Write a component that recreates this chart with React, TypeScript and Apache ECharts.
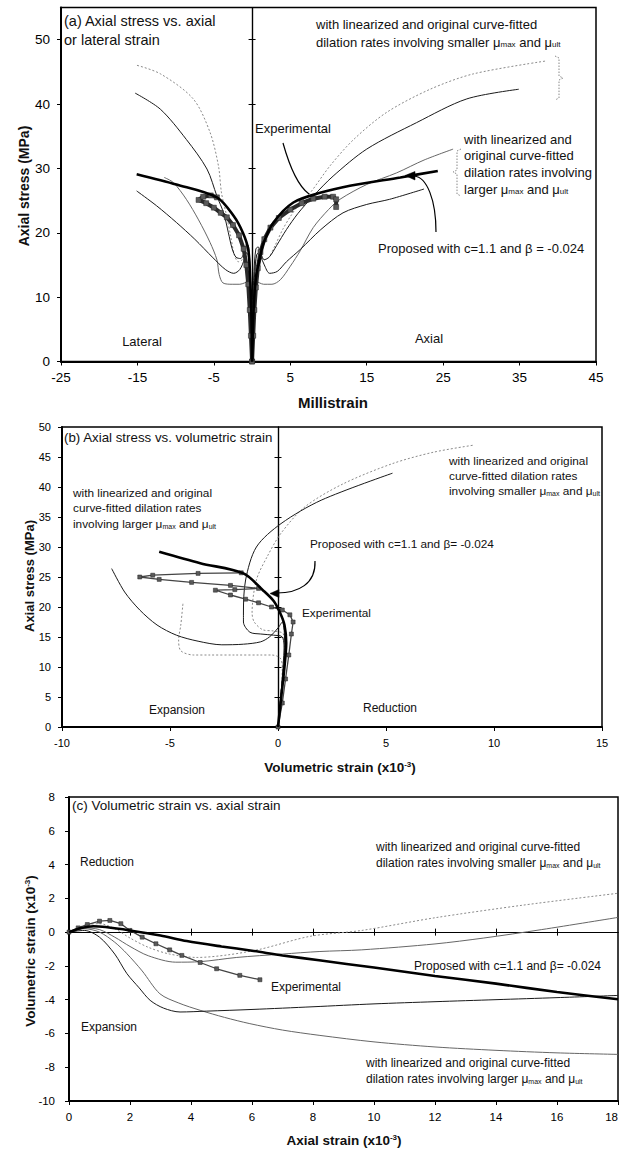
import React, { useEffect, useRef } from 'react';
import * as echarts from 'echarts';

type Pt = [number, number];
const FONT = '"Liberation Sans", Arial, Helvetica, sans-serif';

// ---------- Panel (a): axial stress (MPa) vs strain (millistrain); negative = lateral ----------
const aXTicks = [-25, -15, -5, 5, 15, 25, 35, 45];
const aYTicks = [0, 10, 20, 30, 40, 50];
const aZeroTicks = [10, 20, 30, 40, 50];

const aExpAxial: Pt[] = [[0, 0], [0.15, 4], [0.3, 8], [0.5, 11.5], [0.75, 14.5], [1.1, 17], [1.6, 19], [2.4, 20.8], [3.5, 22.3], [5, 23.6], [6.5, 24.6], [8, 25.3], [9.5, 25.6], [10.6, 25.6], [11.0, 25.2], [11.0, 24.0]];
const aExpLateral: Pt[] = [[0, 0], [-0.15, 4], [-0.3, 8], [-0.5, 12], [-0.75, 15], [-1.1, 17.5], [-1.7, 19.6], [-2.5, 21.2], [-3.3, 22.4], [-4.1, 23.1], [-5, 23.9], [-6, 24.6], [-7, 25.1], [-6.4, 25.6], [-5.4, 25.8], [-4.6, 25.5]];
const aPropAxial: Pt[] = [[0, 0], [0.2, 8], [0.5, 13], [1.0, 16], [1.5, 18.4], [2.8, 21.6], [5.4, 24.7], [8.9, 26.2], [12.8, 27.3], [19.4, 28.6], [24.3, 29.6]];
const aPropLateral: Pt[] = [[0, 0], [-0.1, 8], [-0.25, 13], [-0.5, 17.4], [-1.2, 20], [-2.4, 22.6], [-4.6, 25.5], [-9.9, 27.5], [-15.1, 29.1]];
const aSmallDotAxial: Pt[] = [[0, 0], [0.1, 7], [0.3, 13], [0.6, 16.3], [1.0, 16.6], [1.5, 15.8], [2.2, 16.2], [3, 18], [4, 20.5], [5, 22.5], [6.2, 24.5], [7.6, 26.2], [10.2, 30.4], [13.3, 34.5], [17.6, 38.7], [23.3, 42.3], [29, 44.7], [38.5, 46.7]];
const aSmallDotLateral: Pt[] = [[0, 0], [-0.1, 7], [-0.3, 13], [-0.5, 16.3], [-0.8, 16.8], [-1.3, 15.8], [-1.8, 15.5], [-2.3, 16.5], [-2.8, 19.5], [-3.4, 23], [-4.0, 26.2], [-4.4, 30.4], [-5.5, 35.6], [-7.7, 40.8], [-12, 44.7], [-15.3, 46.1]];
const aSmallBlackAxial: Pt[] = [[0, 0], [0.1, 7], [0.3, 13], [0.6, 16.6], [1.0, 16.9], [1.6, 15.8], [2.3, 16.3], [3.2, 18], [4.5, 20.5], [6, 23], [8, 25.7], [10.6, 28.8], [15, 33], [21.5, 37.1], [28.1, 40.8], [34.9, 42.3]];
const aSmallBlackLateral: Pt[] = [[0, 0], [-0.1, 7], [-0.3, 13], [-0.5, 16.5], [-0.9, 17], [-1.5, 16], [-2.1, 16.2], [-2.6, 17.5], [-3.1, 20], [-3.7, 23], [-4.6, 25.7], [-5.9, 29.9], [-8.6, 34.5], [-12, 39.2], [-15.3, 41.7]];
const aLargeBlackAxial: Pt[] = [[0, 0], [0.1, 8], [0.25, 14], [0.5, 17.5], [0.8, 17.8], [1.1, 16.5], [1.6, 15], [2.3, 13.7], [3.3, 14], [4.5, 15.5], [6.3, 17.4], [9, 20.5], [11.9, 23.1], [15, 24.4], [18, 25.2], [22.5, 26.8]];
const aLargeBlackLateral: Pt[] = [[0, 0], [-0.1, 8], [-0.25, 14], [-0.45, 17.8], [-0.7, 18.3], [-1.0, 16], [-1.6, 14.3], [-2.4, 13.7], [-3.5, 14.3], [-5.1, 16.1], [-7.5, 19], [-9.9, 21.6], [-12.5, 24.2], [-15.1, 26.5]];
const aLargeGrayAxial: Pt[] = [[0, 0], [0.1, 7], [0.3, 11.5], [0.6, 12.4], [1.0, 12.2], [1.5, 12], [2.6, 12], [3.7, 12.7], [5, 14.8], [6.3, 17.2], [8, 20.8], [10, 23.6], [11.5, 25.2], [15, 27.5], [18.9, 29.3], [22.5, 31.3], [26.3, 33]];
const aLargeGrayLateral: Pt[] = [[0, 0], [-0.1, 7], [-0.3, 11.5], [-0.6, 12.4], [-1.0, 12.2], [-1.6, 12], [-2.6, 12], [-3.8, 12.2], [-4.3, 13.5], [-4.6, 15.8], [-5.5, 18.5], [-7, 22], [-8.6, 25.2], [-10.3, 27.8], [-11.5, 28.6]];

// ---------- Panel (b): axial stress (MPa) vs volumetric strain (x10^-3) ----------
const bXTicks = [-10, -5, 0, 5, 10, 15];
const bYTicks = [0, 5, 10, 15, 20, 25, 30, 35, 40, 45, 50];
const bZeroTicks = [5, 10, 15, 20, 25, 30, 35, 40, 45];

const bExp: Pt[] = [[0, 0], [0.2, 4], [0.35, 8], [0.5, 12], [0.62, 15.5], [0.7, 17.5], [0.55, 18.7], [0.2, 19.5], [-0.3, 20], [-0.9, 20.7], [-1.5, 21.3], [-2.2, 22], [-2.9, 22.8], [-2.0, 22.9], [-0.9, 23.1], [-2.2, 23.6], [-4.0, 24.1], [-5.5, 24.6], [-6.4, 25], [-5.8, 25.3], [-3.7, 25.6], [-1.7, 25.7]];
const bProp: Pt[] = [[0, 0], [0.15, 5], [0.3, 10], [0.38, 14], [0.3, 17], [0.1, 19], [-0.2, 21], [-0.7, 22.8], [-1.6, 25.6], [-3.6, 27.3], [-5.5, 29.2]];
const bSmallDot: Pt[] = [[0, 0], [0.15, 6], [0.3, 12], [0.25, 15.5], [-0.2, 16], [-0.7, 16.2], [-1.1, 17.5], [-1.2, 19], [-1.0, 24.5], [-0.5, 28.4], [0.14, 32.3], [1.25, 36.7], [3, 40.5], [5.3, 43.9], [7.2, 45.8], [9.1, 47]];
const bSmallBlack: Pt[] = [[0, 0], [0.15, 6], [0.3, 12], [0.2, 15], [-0.2, 15.3], [-0.8, 15.5], [-1.3, 15.8], [-1.6, 17.5], [-1.6, 19], [-1.5, 24.5], [-1.0, 30], [0.14, 33.9], [2.0, 37.8], [5.3, 42.3]];
const bLargeBlack: Pt[] = [[0, 0], [0.15, 6], [0.25, 11], [0.3, 15], [0.2, 17.5], [0, 16.5], [-0.4, 15], [-0.8, 14.2], [-1.6, 13.8], [-2.6, 13.7], [-3.7, 14.3], [-4.7, 15.3], [-5.6, 17], [-6.4, 19.5], [-7.1, 22.5], [-7.7, 26.4]];
const bLargeGray: Pt[] = [[0, 0], [0.15, 6], [0.2, 10], [0.1, 11.5], [-0.3, 12], [-0.8, 12], [-2, 12], [-3.2, 12], [-3.9, 12], [-4.5, 12.7], [-4.6, 14.5], [-4.5, 17], [-4.4, 20.6]];

// ---------- Panel (c): volumetric strain vs axial strain (x10^-3) ----------
const cXTicks = [0, 2, 4, 6, 8, 10, 12, 14, 16, 18];
const cYTicks = [-10, -8, -6, -4, -2, 0, 2, 4, 6, 8];
const cZeroTicks = [2, 4, 6, 8, 10, 12, 14, 16];

const cExp: Pt[] = [[0, 0], [0.3, 0.25], [0.6, 0.45], [1.0, 0.65], [1.34, 0.69], [1.7, 0.5], [2.0, 0.1], [2.4, -0.3], [2.85, -0.69], [3.3, -1.05], [3.7, -1.38], [4.3, -1.8], [4.84, -2.17], [5.6, -2.56], [6.26, -2.82]];
const cProp: Pt[] = [[0, 0], [0.4, 0.25], [0.8, 0.35], [1.2, 0.3], [2, 0.1], [3, -0.2], [3.86, -0.53], [5, -0.85], [6, -1.1], [7, -1.38], [8.2, -1.67], [10, -2.1], [12, -2.6], [14, -3.05], [16, -3.55], [18, -3.98]];
const cSmallDot: Pt[] = [[0, 0], [0.5, 0.4], [1, 0.5], [1.5, 0.2], [2, -0.35], [2.6, -0.9], [3.3, -1.3], [4.2, -1.5], [5.2, -1.35], [6.3, -1.0], [7.9, -0.25], [9.6, 0.1], [12, 0.85], [14.9, 1.6], [18, 2.3]];
const cSmallGray: Pt[] = [[0, 0], [0.5, 0.25], [1, 0.15], [1.5, -0.3], [2, -0.85], [2.6, -1.4], [3.5, -1.78], [4.3, -1.75], [5.5, -1.5], [7, -1.3], [8.2, -1.15], [9.6, -1.05], [12, -0.7], [13.6, -0.35], [15.5, 0.15], [18, 0.87]];
const cLargeBlack: Pt[] = [[0, 0], [0.5, 0.1], [1, -0.3], [1.5, -1.3], [1.9, -2.46], [2.3, -3.3], [2.66, -4.04], [3.1, -4.5], [3.64, -4.73], [4.5, -4.68], [6, -4.58], [8, -4.42], [10, -4.25], [12, -4.12], [14, -4.0], [16, -3.88], [18, -3.75]];
const cLargeGray: Pt[] = [[0, 0], [0.5, 0.2], [1, 0], [1.5, -0.6], [1.9, -1.28], [2.4, -2.3], [2.98, -3.65], [3.6, -4.2], [4.3, -4.63], [5.1, -5.05], [5.93, -5.42], [7, -5.8], [8.2, -6.11], [10, -6.5], [12, -6.8], [14, -7.0], [16, -7.15], [18, -7.24]];

// ---------- helpers ----------
type Kind = 'prop' | 'expA' | 'exp' | 'black' | 'gray' | 'dot';
const STYLES: Record<Kind, any> = {
  prop: { color: '#000', width: 2.6, type: 'solid' },
  expA: { color: '#2a2a2a', width: 4, type: 'solid' },
  exp: { color: '#444', width: 1.3, type: 'solid' },
  black: { color: '#1a1a1a', width: 1, type: 'solid' },
  gray: { color: '#666', width: 1, type: 'solid' },
  dot: { color: '#8a8a8a', width: 1, type: [2, 2] },
};

function line(data: Pt[], xi: number, yi: number, kind: Kind) {
  const isExp = kind === 'exp' || kind === 'expA';
  return {
    type: 'line',
    xAxisIndex: xi,
    yAxisIndex: yi,
    data,
    smooth: isExp ? false : 0.3,
    showSymbol: isExp,
    symbol: 'rect',
    symbolSize: kind === 'expA' ? 5 : 4,
    itemStyle: { color: '#5a5a5a', borderColor: '#222', borderWidth: 0.5 },
    lineStyle: STYLES[kind],
    silent: true,
    z: kind === 'prop' ? 6 : isExp ? 5 : 3,
  };
}

function baseAxis(grid: number, min: number, max: number, ticks: number[], fontSize: number, margin: number, extraLabel: any = {}) {
  return {
    type: 'value', gridIndex: grid, min, max,
    axisLine: { show: true, onZero: false, lineStyle: { color: '#000', width: 2 } },
    axisTick: { show: true, length: 4, customValues: ticks, lineStyle: { color: '#000', width: 1 } },
    axisLabel: { show: true, customValues: ticks, fontSize, color: '#000', fontFamily: FONT, margin, ...extraLabel },
    splitLine: { show: false },
  };
}

function zeroAxis(grid: number, min: number, max: number, ticks: number[], position: string, inside: boolean, onZeroAxisIndex: number) {
  return {
    type: 'value', gridIndex: grid, min, max, position,
    axisLine: { show: true, onZero: true, onZeroAxisIndex, lineStyle: { color: '#000', width: 1.2 } },
    axisTick: { show: true, length: 3.5, inside, customValues: ticks, lineStyle: { color: '#000', width: 1 } },
    axisLabel: { show: false },
    splitLine: { show: false },
  };
}

function rich(size: number, bold = false) {
  const w = bold ? 'bold' : 'normal';
  return {
    sub: { fontSize: Math.round(size * 0.62), verticalAlign: 'bottom', fontFamily: FONT, fill: '#111', fontWeight: w },
    sup: { fontSize: Math.round(size * 0.62), verticalAlign: 'top', fontFamily: FONT, fill: '#111', fontWeight: w },
  };
}

function txt(x: number, y: number, text: string, size: number, extra: any = {}) {
  const bold = extra.fontWeight === 'bold';
  const align = extra.align || 'left';
  const { rotation, ...rest } = extra;
  return {
    type: 'text', x, y, z: 50, silent: true,
    rotation: rotation || 0,
    style: {
      text, fontSize: size, fontFamily: FONT, fill: '#111',
      textAlign: align, textVerticalAlign: 'middle', align, verticalAlign: 'middle',
      rich: rich(size, bold),
      ...rest,
    },
  };
}

function bez(x1: number, y1: number, cpx1: number, cpy1: number, cpx2: number, cpy2: number, x2: number, y2: number, color = '#000', width = 1.2) {
  return { type: 'bezierCurve', z: 50, silent: true, shape: { x1, y1, cpx1, cpy1, cpx2, cpy2, x2, y2 }, style: { stroke: color, lineWidth: width, fill: null } };
}

function head(points: number[][]) {
  return { type: 'polygon', z: 50, silent: true, shape: { points }, style: { fill: '#000', stroke: '#000', lineWidth: 0.5 } };
}

function brace(points: number[][]) {
  return { type: 'polyline', z: 50, silent: true, shape: { points }, style: { stroke: '#888', lineWidth: 1, lineDash: [1.5, 1.5], fill: null } };
}

const MU = 'μ';

function buildOption() {
  const grid = [
    { left: 61, top: 7.5, width: 535, height: 354 },
    { left: 62, top: 427, width: 540, height: 300 },
    { left: 69, top: 797, width: 549, height: 304 },
  ].map((g) => ({ ...g, show: true, borderColor: '#000', borderWidth: 1.5, backgroundColor: 'transparent', containLabel: false, outerBoundsMode: 'none' }));

  const xAxis = [
    baseAxis(0, -25, 45, aXTicks, 13.5, 9),
    baseAxis(1, -10, 15, bXTicks, 11, 10),
    baseAxis(2, 0, 18, cXTicks, 11.5, 10, { alignMaxLabel: 'right' }),
    zeroAxis(2, 0, 18, cZeroTicks, 'bottom', false, 6),
    zeroAxis(2, 0, 18, cZeroTicks, 'bottom', true, 6),
  ];
  const yAxis = [
    baseAxis(0, 0, 55, aYTicks, 13.5, 11),
    zeroAxis(0, 0, 55, aZeroTicks, 'right', false, 0),
    zeroAxis(0, 0, 55, aZeroTicks, 'left', false, 0),
    baseAxis(1, 0, 50, bYTicks, 11, 11),
    zeroAxis(1, 0, 50, bZeroTicks, 'right', false, 1),
    zeroAxis(1, 0, 50, bZeroTicks, 'left', false, 1),
    baseAxis(2, -10, 8, cYTicks, 11.5, 14),
  ];

  const series = [
    // panel a
    line(aSmallDotAxial, 0, 0, 'dot'), line(aSmallDotLateral, 0, 0, 'dot'),
    line(aLargeGrayAxial, 0, 0, 'gray'), line(aLargeGrayLateral, 0, 0, 'gray'),
    line(aSmallBlackAxial, 0, 0, 'black'), line(aSmallBlackLateral, 0, 0, 'black'),
    line(aLargeBlackAxial, 0, 0, 'black'), line(aLargeBlackLateral, 0, 0, 'black'),
    line(aExpAxial, 0, 0, 'expA'), line(aExpLateral, 0, 0, 'expA'),
    line(aPropAxial, 0, 0, 'prop'), line(aPropLateral, 0, 0, 'prop'),
    // panel b
    line(bSmallDot, 1, 3, 'dot'), line(bLargeGray, 1, 3, 'dot'),
    line(bSmallBlack, 1, 3, 'black'), line(bLargeBlack, 1, 3, 'black'),
    line(bExp, 1, 3, 'exp'), line(bProp, 1, 3, 'prop'),
    // panel c
    line(cSmallDot, 2, 6, 'dot'), line(cSmallGray, 2, 6, 'gray'),
    line(cLargeGray, 2, 6, 'gray'), line(cLargeBlack, 2, 6, 'black'),
    line(cExp, 2, 6, 'exp'), line(cProp, 2, 6, 'prop'),
  ];

  const graphic = [
    // ----- panel a -----
    txt(24, 186, 'Axial stress (MPa)', 14, { fontWeight: 'bold', align: 'center', rotation: Math.PI / 2 }),
    txt(333, 402, 'Millistrain', 15, { fontWeight: 'bold', align: 'center' }),
    txt(64, 21, '(a) Axial stress vs. axial', 14.5),
    txt(64, 40, 'or lateral strain', 14.5),
    txt(316, 24, 'with linearized and original curve-fitted', 13),
    txt(316, 42, `dilation rates involving smaller ${MU}{sub|max} and ${MU}{sub|ult}`, 13),
    txt(255, 128, 'Experimental', 13),
    txt(464, 139, 'with linearized and', 13),
    txt(464, 155, 'original curve-fitted', 13),
    txt(464, 172, 'dilation rates involving', 13),
    txt(464, 189, `larger ${MU}{sub|max} and ${MU}{sub|ult}`, 13),
    txt(378, 248, 'Proposed with c=1.1 and β = -0.024', 13),
    txt(142, 341, 'Lateral', 13, { align: 'center' }),
    txt(429, 338, 'Axial', 13, { align: 'center' }),
    bez(283, 143, 290, 168, 298, 186, 309, 194),
    bez(414, 176, 427, 177, 436, 200, 436, 232),
    head([[405, 175.5], [415, 171.5], [415, 180]]),
    brace([[555, 56], [559, 58], [559, 76], [563, 78], [559, 80], [559, 98], [555, 100]]),
    brace([[461, 149], [457, 151], [457, 170], [453, 172], [457, 174], [457, 194], [461, 196]]),
    // ----- panel b -----
    txt(29, 576, 'Axial stress (MPa)', 13, { fontWeight: 'bold', align: 'center', rotation: Math.PI / 2 }),
    txt(340, 767, 'Volumetric strain (x10{sup|-3})', 13.5, { fontWeight: 'bold', align: 'center' }),
    txt(64, 437, '(b) Axial stress vs. volumetric strain', 13.3),
    txt(73, 493, 'with linearized and original', 11.8),
    txt(73, 508, 'curve-fitted dilation rates', 11.8),
    txt(73, 524, `involving larger ${MU}{sub|max} and ${MU}{sub|ult}`, 11.8),
    txt(449, 461, 'with linearized and original', 11.8),
    txt(449, 476, 'curve-fitted dilation rates', 11.8),
    txt(449, 491, `involving smaller ${MU}{sub|max} and ${MU}{sub|ult}`, 11.8),
    txt(310, 544, 'Proposed with c=1.1 and β= -0.024', 11.8),
    txt(302, 613, 'Experimental', 11.8),
    txt(177, 710, 'Expansion', 12, { align: 'center' }),
    txt(390, 708, 'Reduction', 12, { align: 'center' }),
    bez(315, 561, 316, 584, 298, 593, 277, 593),
    head([[270, 593.5], [279, 589.5], [279, 597.5]]),
    // ----- panel c -----
    txt(30, 951, 'Volumetric strain (x10{sup|-3})', 13.5, { fontWeight: 'bold', align: 'center', rotation: Math.PI / 2 }),
    txt(344, 1140, 'Axial strain (x10{sup|-3})', 13.5, { fontWeight: 'bold', align: 'center' }),
    txt(72, 805, '(c) Volumetric strain vs. axial strain', 13.5),
    txt(80, 862, 'Reduction', 12),
    txt(81, 1027, 'Expansion', 12),
    txt(376, 847, 'with linearized and original curve-fitted', 12),
    txt(376, 863, `dilation rates involving smaller ${MU}{sub|max} and ${MU}{sub|ult}`, 12),
    txt(414, 966, 'Proposed with c=1.1 and β= -0.024', 12),
    txt(271, 987, 'Experimental', 12),
    txt(366, 1063, 'with linearized and original curve-fitted', 12),
    txt(366, 1079, `dilation rates involving larger ${MU}{sub|max} and ${MU}{sub|ult}`, 12),
  ];

  return {
    animation: false,
    backgroundColor: '#fff',
    textStyle: { fontFamily: FONT },
    grid,
    xAxis,
    yAxis,
    series,
    graphic,
  };
}

export default function App() {
  const ref = useRef<HTMLDivElement>(null);
  useEffect(() => {
    if (!ref.current) return;
    const chart = echarts.init(ref.current, null, { renderer: 'svg' });
    chart.setOption(buildOption() as any);
    return () => chart.dispose();
  }, []);
  return (
    <div
      ref={ref}
      style={{ position: 'absolute', left: 0, top: 0, width: 621, height: 1157, background: '#fff' }}
    />
  );
}
